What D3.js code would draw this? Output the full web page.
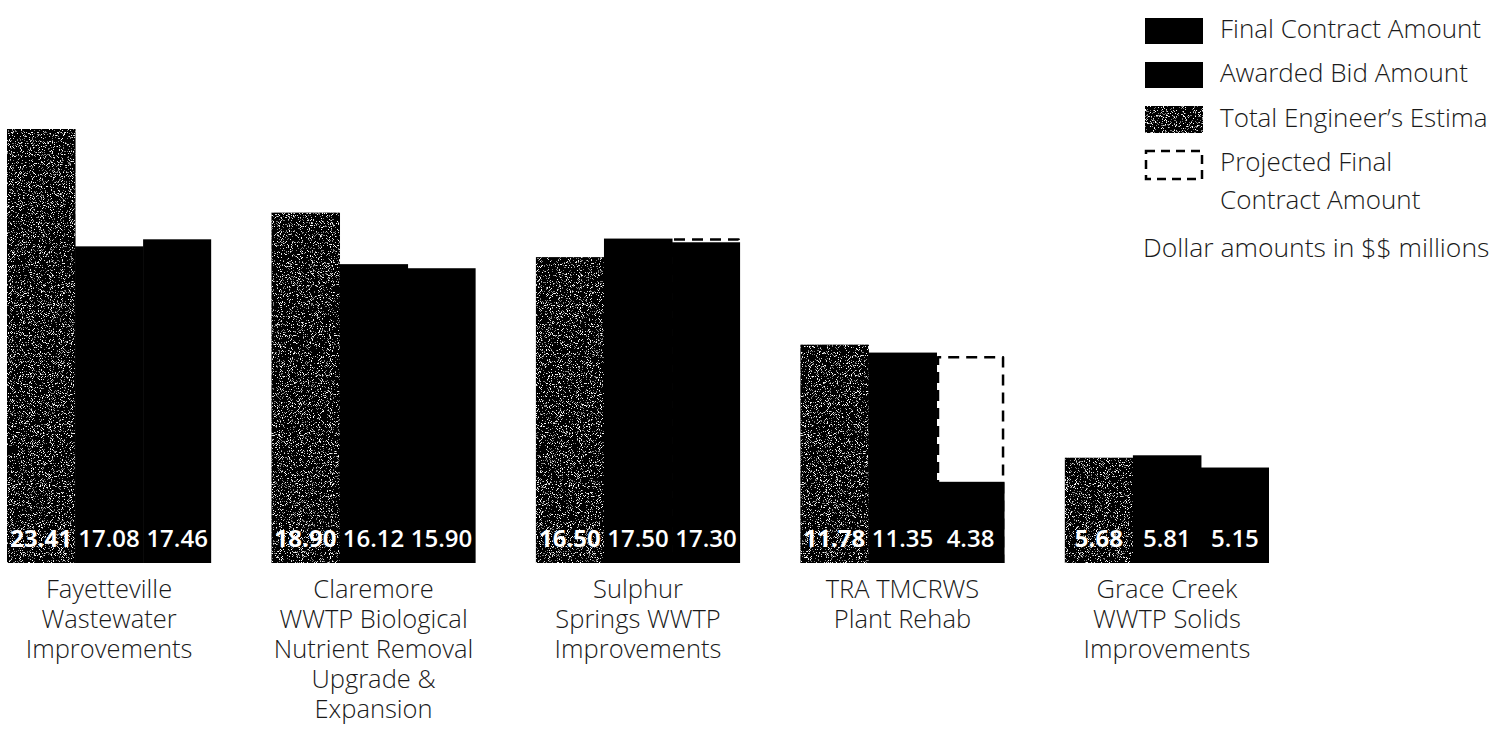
<!DOCTYPE html>
<html>
<head>
<meta charset="utf-8">
<script src="https://cdn.jsdelivr.net/npm/d3@7"></script>
<style>
  html, body { margin: 0; padding: 0; background: #fff; }
  svg { display: block; font-family: "Open Sans", "Noto Sans", sans-serif; }
</style>
</head>
<body>
<svg id="chart" width="1507" height="740"></svg>
<script>
// ---- data ----
const categories = [
  ["Fayetteville", "Wastewater", "Improvements"],
  ["Claremore", "WWTP Biological", "Nutrient Removal", "Upgrade &", "Expansion"],
  ["Sulphur", "Springs WWTP", "Improvements"],
  ["TRA TMCRWS", "Plant Rehab"],
  ["Grace Creek", "WWTP Solids", "Improvements"]
];
const categoryKeys = ["Fayetteville", "Claremore", "Sulphur", "TRA", "Grace"];
const engineersEstimate = [23.41, 18.90, 16.50, 11.78, 5.68];
const awardedBid = [17.08, 16.12, 17.50, 11.35, 5.81];
const finalContract = [17.46, 15.90, 17.30, 4.38, 5.15];
const projectedFinal = [null, null, 17.45, 11.10, null];
const seriesKeys = ["est", "bid", "final"];
const legendLabels = ["Final Contract Amount", "Awarded Bid Amount", "Total Engineer\u2019s Estima", "Projected Final", "Contract Amount"];
const noteText = "Dollar amounts in $$ millions";

// ---- layout ----
const svg = d3.select("#chart");
const baseY = 563;
const y = d3.scaleLinear().domain([0, 23.41]).range([baseY, 129]);
const x0 = d3.scaleBand().domain(categoryKeys).range([7, 1269]).paddingInner(0.228).paddingOuter(0);
const x1 = d3.scaleBand().domain(seriesKeys).range([0, x0.bandwidth()]).padding(0);

// speckle texture filter
const defs = svg.append("defs");
const f = defs.append("filter").attr("id", "speckle").attr("x", 0).attr("y", 0).attr("width", 1).attr("height", 1)
  .attr("color-interpolation-filters", "sRGB");
f.append("feTurbulence").attr("type", "fractalNoise").attr("baseFrequency", 1.1).attr("numOctaves", 2).attr("seed", 7).attr("result", "noise");
f.append("feColorMatrix").attr("in", "noise").attr("type", "matrix")
  .attr("values", "0 0 0 0 1  0 0 0 0 1  0 0 0 0 1  1 0 0 0 0").attr("result", "n2");
f.append("feComponentTransfer").attr("in", "n2").attr("result", "spk")
  .append("feFuncA").attr("type", "discrete")
  .attr("tableValues", "0 0 0 0 0 0 0 0 0 0 0 0 0.5 0.85 1 1 1 1 1 1");
f.append("feComposite").attr("in", "spk").attr("in2", "SourceGraphic").attr("operator", "in").attr("result", "spk2");
const m = f.append("feMerge");
m.append("feMergeNode").attr("in", "SourceGraphic");
m.append("feMergeNode").attr("in", "spk2");

const groups = svg.selectAll("g.grp").data(categoryKeys).join("g")
  .attr("class", "grp")
  .attr("transform", d => `translate(${x0(d)},0)`);

groups.each(function(d, i) {
  const g = d3.select(this);
  if (projectedFinal[i] != null) {
    const xl = x1("final") + 1.5, xr = x1("final") + x1.bandwidth() - 1.5, yt = y(projectedFinal[i]);
    g.append("rect").attr("x", xl).attr("y", yt).attr("width", xr - xl).attr("height", baseY - yt).attr("fill", "#fff");
    const p = d3.path();
    p.moveTo(xl, baseY); p.lineTo(xl, yt); p.lineTo(xr, yt); p.lineTo(xr, baseY);
    g.append("path").attr("d", p.toString())
      .attr("fill", "none").attr("stroke", "#000").attr("stroke-width", 2.5)
      .attr("stroke-linejoin", "round").attr("stroke-dasharray", "11,7");
  }
  const vals = [engineersEstimate[i], awardedBid[i], finalContract[i]];
  seriesKeys.forEach((k, j) => {
    const r = g.append("rect")
      .attr("x", x1(k))
      .attr("y", y(vals[j]))
      .attr("width", x1.bandwidth() + (j < 2 ? 0.5 : 0))
      .attr("height", baseY - y(vals[j]))
      .attr("fill", "#000");
    if (k === "est") r.attr("filter", "url(#speckle)");
  });
  seriesKeys.forEach((k, j) => {
    g.append("text")
      .attr("x", x1(k) + x1.bandwidth() / 2)
      .attr("y", 547)
      .attr("text-anchor", "middle")
      .attr("fill", "#fff")
      .attr("font-size", 24)
      .attr("font-weight", j === 0 ? 700 : 600)
      .text(vals[j].toFixed(2));
  });
  const t = g.append("text")
    .attr("x", x0.bandwidth() / 2)
    .attr("y", 598)
    .attr("text-anchor", "middle")
    .attr("fill", "#1a1a1a")
    .attr("font-size", 25.5)
    .attr("font-weight", 300);
  categories[i].forEach((line, li) => {
    t.append("tspan").attr("x", x0.bandwidth() / 2).attr("dy", li === 0 ? 0 : 30).text(line);
  });
});

// legend
const lg = svg.append("g");
const sw = [
  {y: 18, h: 26, type: "solid"},
  {y: 62, h: 26, type: "solid"},
  {y: 106, h: 27, type: "tex"},
  {y: 151, h: 28, type: "dash"}
];
sw.forEach((s, i) => {
  const r = lg.append("rect").attr("x", 1145).attr("y", s.y).attr("width", 58).attr("height", s.h);
  if (s.type === "dash") {
    r.attr("fill", "#fff").attr("stroke", "#000").attr("stroke-width", 2.5).attr("stroke-dasharray", "9,6")
      .attr("x", 1146).attr("width", 56);
  } else {
    r.attr("fill", "#000");
    if (s.type === "tex") r.attr("filter", "url(#speckle)");
  }
});
const legY = [38, 82, 127, 171, 209];
legendLabels.forEach((l, i) => {
  lg.append("text").attr("x", 1220).attr("y", legY[i])
    .attr("font-size", 26).attr("font-weight", 300).attr("fill", "#1a1a1a").text(l);
});
lg.append("text").attr("x", 1143).attr("y", 257)
  .attr("font-size", 26.5).attr("font-weight", 300).attr("fill", "#1a1a1a").text(noteText);
</script>
</body>
</html>
